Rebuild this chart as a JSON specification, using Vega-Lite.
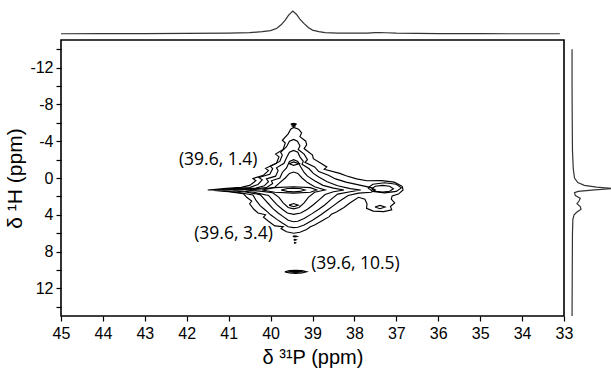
{
  "$schema": "https://vega.github.io/schema/vega-lite/v6.json",
  "padding": {"left": 4, "top": 8, "right": 0, "bottom": 5},
  "columns": 2,
  "bounds": "flush",
  "spacing": {"row": 6, "column": 6},
  "config": {
    "font": "Liberation Sans",
    "view": {"stroke": null},
    "axis": {"labelFont": "Liberation Sans", "titleFont": "Liberation Sans", "labelColor": "black", "titleColor": "black", "tickColor": "black", "labelFontSize": 16, "titleFontSize": 20, "titleFontWeight": "normal", "grid": false, "domain": false, "tickSize": 5, "tickWidth": 1.2, "labelOverlap": false, "labelBound": false, "labelFlush": false}
  },
  "datasets": {
    "contours": [
      {"c":"r1","p":41.50,"h":1.30},{"c":"r1","p":41.05,"h":1.12},{"c":"r1","p":40.70,"h":1.02},{"c":"r1","p":40.50,"h":0.80},{"c":"r1","p":40.35,"h":0.30},{"c":"r1","p":40.42,"h":0.05},{"c":"r1","p":40.17,"h":-0.30},{"c":"r1","p":40.05,"h":-0.80},{"c":"r1","p":40.12,"h":-1.05},{"c":"r1","p":39.86,"h":-1.60},{"c":"r1","p":39.80,"h":-2.30},{"c":"r1","p":39.88,"h":-2.60},{"c":"r1","p":39.70,"h":-3.10},{"c":"r1","p":39.65,"h":-3.80},{"c":"r1","p":39.72,"h":-4.10},{"c":"r1","p":39.58,"h":-4.80},{"c":"r1","p":39.52,"h":-5.30},{"c":"r1","p":39.45,"h":-5.50},{"c":"r1","p":39.33,"h":-5.30},{"c":"r1","p":39.26,"h":-4.90},{"c":"r1","p":39.30,"h":-4.50},{"c":"r1","p":39.16,"h":-4.00},{"c":"r1","p":39.14,"h":-3.60},{"c":"r1","p":39.20,"h":-3.20},{"c":"r1","p":39.00,"h":-2.50},{"c":"r1","p":38.98,"h":-2.10},{"c":"r1","p":38.80,"h":-1.60},{"c":"r1","p":38.66,"h":-1.20},{"c":"r1","p":38.72,"h":-0.95},{"c":"r1","p":38.35,"h":-0.50},{"c":"r1","p":38.20,"h":-0.25},{"c":"r1","p":37.95,"h":0.10},{"c":"r1","p":37.70,"h":0.30},{"c":"r1","p":37.35,"h":0.28},{"c":"r1","p":37.05,"h":0.45},{"c":"r1","p":36.86,"h":0.90},{"c":"r1","p":36.84,"h":1.30},{"c":"r1","p":36.95,"h":1.75},{"c":"r1","p":37.10,"h":1.95},{"c":"r1","p":37.12,"h":2.30},{"c":"r1","p":37.04,"h":2.70},{"c":"r1","p":37.14,"h":3.10},{"c":"r1","p":37.11,"h":3.45},{"c":"r1","p":37.30,"h":3.65},{"c":"r1","p":37.55,"h":3.60},{"c":"r1","p":37.71,"h":3.30},{"c":"r1","p":37.70,"h":2.80},{"c":"r1","p":37.75,"h":2.30},{"c":"r1","p":37.90,"h":2.10},{"c":"r1","p":38.10,"h":2.70},{"c":"r1","p":38.25,"h":3.20},{"c":"r1","p":38.43,"h":3.70},{"c":"r1","p":38.55,"h":3.95},{"c":"r1","p":38.60,"h":4.20},{"c":"r1","p":38.75,"h":4.60},{"c":"r1","p":38.95,"h":5.10},{"c":"r1","p":39.05,"h":5.30},{"c":"r1","p":39.14,"h":5.60},{"c":"r1","p":39.30,"h":5.90},{"c":"r1","p":39.45,"h":6.00},{"c":"r1","p":39.62,"h":5.85},{"c":"r1","p":39.75,"h":5.50},{"c":"r1","p":39.70,"h":5.30},{"c":"r1","p":39.90,"h":5.20},{"c":"r1","p":40.05,"h":4.70},{"c":"r1","p":40.17,"h":4.25},{"c":"r1","p":40.12,"h":4.00},{"c":"r1","p":40.30,"h":3.80},{"c":"r1","p":40.40,"h":3.40},{"c":"r1","p":40.50,"h":2.80},{"c":"r1","p":40.45,"h":2.50},{"c":"r1","p":40.57,"h":2.10},{"c":"r1","p":40.65,"h":1.70},{"c":"r1","p":41.00,"h":1.50},{"c":"r1","p":41.50,"h":1.30},
      {"c":"r2","p":41.35,"h":1.30},{"c":"r2","p":40.90,"h":1.15},{"c":"r2","p":40.50,"h":1.05},{"c":"r2","p":40.30,"h":0.70},{"c":"r2","p":40.20,"h":0.20},{"c":"r2","p":40.28,"h":-0.05},{"c":"r2","p":40.02,"h":-0.40},{"c":"r2","p":39.95,"h":-1.00},{"c":"r2","p":40.00,"h":-1.30},{"c":"r2","p":39.78,"h":-1.80},{"c":"r2","p":39.72,"h":-2.50},{"c":"r2","p":39.76,"h":-2.80},{"c":"r2","p":39.62,"h":-3.40},{"c":"r2","p":39.55,"h":-4.00},{"c":"r2","p":39.45,"h":-4.20},{"c":"r2","p":39.36,"h":-4.00},{"c":"r2","p":39.30,"h":-3.50},{"c":"r2","p":39.34,"h":-3.10},{"c":"r2","p":39.20,"h":-2.60},{"c":"r2","p":39.12,"h":-2.00},{"c":"r2","p":39.18,"h":-1.70},{"c":"r2","p":38.95,"h":-1.20},{"c":"r2","p":38.85,"h":-0.70},{"c":"r2","p":38.62,"h":-0.30},{"c":"r2","p":38.45,"h":0.10},{"c":"r2","p":38.20,"h":0.45},{"c":"r2","p":37.90,"h":0.75},{"c":"r2","p":37.60,"h":1.05},{"c":"r2","p":37.50,"h":1.30},{"c":"r2","p":37.60,"h":1.55},{"c":"r2","p":37.90,"h":1.65},{"c":"r2","p":38.15,"h":1.90},{"c":"r2","p":38.35,"h":2.50},{"c":"r2","p":38.50,"h":3.00},{"c":"r2","p":38.65,"h":3.50},{"c":"r2","p":38.80,"h":4.00},{"c":"r2","p":39.00,"h":4.60},{"c":"r2","p":39.20,"h":5.10},{"c":"r2","p":39.35,"h":5.35},{"c":"r2","p":39.45,"h":5.40},{"c":"r2","p":39.58,"h":5.30},{"c":"r2","p":39.72,"h":4.90},{"c":"r2","p":39.85,"h":4.50},{"c":"r2","p":40.00,"h":4.00},{"c":"r2","p":40.12,"h":3.50},{"c":"r2","p":40.25,"h":3.00},{"c":"r2","p":40.35,"h":2.40},{"c":"r2","p":40.42,"h":1.85},{"c":"r2","p":40.80,"h":1.55},{"c":"r2","p":41.35,"h":1.30},
      {"c":"r3","p":41.15,"h":1.30},{"c":"r3","p":40.70,"h":1.18},{"c":"r3","p":40.35,"h":1.10},{"c":"r3","p":40.15,"h":0.85},{"c":"r3","p":40.05,"h":0.40},{"c":"r3","p":40.10,"h":0.10},{"c":"r3","p":39.88,"h":-0.20},{"c":"r3","p":39.82,"h":-0.80},{"c":"r3","p":39.86,"h":-1.10},{"c":"r3","p":39.68,"h":-1.60},{"c":"r3","p":39.62,"h":-2.20},{"c":"r3","p":39.55,"h":-2.80},{"c":"r3","p":39.45,"h":-3.00},{"c":"r3","p":39.35,"h":-2.80},{"c":"r3","p":39.30,"h":-2.30},{"c":"r3","p":39.22,"h":-1.80},{"c":"r3","p":39.25,"h":-1.50},{"c":"r3","p":39.08,"h":-1.00},{"c":"r3","p":38.98,"h":-0.50},{"c":"r3","p":38.85,"h":-0.10},{"c":"r3","p":38.65,"h":0.40},{"c":"r3","p":38.40,"h":0.85},{"c":"r3","p":38.10,"h":1.15},{"c":"r3","p":37.85,"h":1.30},{"c":"r3","p":38.10,"h":1.50},{"c":"r3","p":38.40,"h":1.75},{"c":"r3","p":38.55,"h":2.30},{"c":"r3","p":38.70,"h":2.90},{"c":"r3","p":38.85,"h":3.40},{"c":"r3","p":39.02,"h":3.90},{"c":"r3","p":39.20,"h":4.40},{"c":"r3","p":39.35,"h":4.70},{"c":"r3","p":39.45,"h":4.75},{"c":"r3","p":39.58,"h":4.60},{"c":"r3","p":39.70,"h":4.20},{"c":"r3","p":39.82,"h":3.80},{"c":"r3","p":39.95,"h":3.30},{"c":"r3","p":40.05,"h":2.80},{"c":"r3","p":40.15,"h":2.30},{"c":"r3","p":40.25,"h":1.80},{"c":"r3","p":40.60,"h":1.52},{"c":"r3","p":41.15,"h":1.30},
      {"c":"r4","p":40.90,"h":1.30},{"c":"r4","p":40.45,"h":1.20},{"c":"r4","p":40.10,"h":1.05},{"c":"r4","p":39.95,"h":0.60},{"c":"r4","p":39.98,"h":0.30},{"c":"r4","p":39.78,"h":0.00},{"c":"r4","p":39.72,"h":-0.60},{"c":"r4","p":39.62,"h":-1.10},{"c":"r4","p":39.55,"h":-1.80},{"c":"r4","p":39.45,"h":-2.00},{"c":"r4","p":39.35,"h":-1.80},{"c":"r4","p":39.28,"h":-1.20},{"c":"r4","p":39.20,"h":-0.60},{"c":"r4","p":39.12,"h":-0.20},{"c":"r4","p":38.95,"h":0.30},{"c":"r4","p":38.75,"h":0.80},{"c":"r4","p":38.50,"h":1.10},{"c":"r4","p":38.25,"h":1.30},{"c":"r4","p":38.50,"h":1.50},{"c":"r4","p":38.70,"h":1.80},{"c":"r4","p":38.85,"h":2.40},{"c":"r4","p":38.98,"h":2.90},{"c":"r4","p":39.12,"h":3.40},{"c":"r4","p":39.28,"h":3.80},{"c":"r4","p":39.45,"h":3.95},{"c":"r4","p":39.60,"h":3.80},{"c":"r4","p":39.72,"h":3.40},{"c":"r4","p":39.85,"h":2.90},{"c":"r4","p":39.95,"h":2.40},{"c":"r4","p":40.05,"h":1.90},{"c":"r4","p":40.40,"h":1.55},{"c":"r4","p":40.90,"h":1.30},
      {"c":"r5","p":40.60,"h":1.30},{"c":"r5","p":40.20,"h":1.20},{"c":"r5","p":39.90,"h":1.00},{"c":"r5","p":39.78,"h":0.50},{"c":"r5","p":39.65,"h":0.00},{"c":"r5","p":39.55,"h":-0.50},{"c":"r5","p":39.45,"h":-0.65},{"c":"r5","p":39.35,"h":-0.50},{"c":"r5","p":39.25,"h":0.00},{"c":"r5","p":39.12,"h":0.50},{"c":"r5","p":38.95,"h":0.95},{"c":"r5","p":38.70,"h":1.30},{"c":"r5","p":38.95,"h":1.55},{"c":"r5","p":39.10,"h":2.10},{"c":"r5","p":39.20,"h":2.70},{"c":"r5","p":39.32,"h":3.20},{"c":"r5","p":39.45,"h":3.35},{"c":"r5","p":39.58,"h":3.20},{"c":"r5","p":39.70,"h":2.70},{"c":"r5","p":39.80,"h":2.10},{"c":"r5","p":39.95,"h":1.60},{"c":"r5","p":40.20,"h":1.45},{"c":"r5","p":40.60,"h":1.30},
      {"c":"r6","p":40.20,"h":1.30},{"c":"r6","p":39.90,"h":1.05},{"c":"r6","p":39.45,"h":0.95},{"c":"r6","p":39.05,"h":1.05},{"c":"r6","p":38.90,"h":1.30},{"c":"r6","p":39.05,"h":1.55},{"c":"r6","p":39.45,"h":1.65},{"c":"r6","p":39.90,"h":1.55},{"c":"r6","p":40.20,"h":1.30},
      {"c":"r7","p":39.75,"h":1.30},{"c":"r7","p":39.60,"h":1.14},{"c":"r7","p":39.45,"h":1.10},{"c":"r7","p":39.30,"h":1.14},{"c":"r7","p":39.18,"h":1.30},{"c":"r7","p":39.30,"h":1.46},{"c":"r7","p":39.45,"h":1.50},{"c":"r7","p":39.60,"h":1.46},{"c":"r7","p":39.75,"h":1.30},
      {"c":"lp","p":39.56,"h":2.95},{"c":"lp","p":39.45,"h":2.78},{"c":"lp","p":39.34,"h":2.95},{"c":"lp","p":39.45,"h":3.12},{"c":"lp","p":39.56,"h":2.95},
      {"c":"up","p":39.56,"h":-1.55},{"c":"up","p":39.45,"h":-1.75},{"c":"up","p":39.32,"h":-1.55},{"c":"up","p":39.45,"h":-1.38},{"c":"up","p":39.56,"h":-1.55},
      {"c":"e1","p":37.68,"h":1.07},{"c":"e1","p":37.56,"h":0.68},{"c":"e1","p":37.28,"h":0.52},{"c":"e1","p":37.00,"h":0.68},{"c":"e1","p":36.88,"h":1.07},{"c":"e1","p":37.00,"h":1.46},{"c":"e1","p":37.28,"h":1.62},{"c":"e1","p":37.56,"h":1.46},{"c":"e1","p":37.68,"h":1.07},
      {"c":"e2","p":37.59,"h":1.17},{"c":"e2","p":37.50,"h":0.90},{"c":"e2","p":37.33,"h":0.81},{"c":"e2","p":37.16,"h":0.90},{"c":"e2","p":37.07,"h":1.17},{"c":"e2","p":37.16,"h":1.44},{"c":"e2","p":37.33,"h":1.53},{"c":"e2","p":37.50,"h":1.44},{"c":"e2","p":37.59,"h":1.17},
      {"c":"lr","p":37.51,"h":3.16},{"c":"lr","p":37.39,"h":2.98},{"c":"lr","p":37.27,"h":3.16},{"c":"lr","p":37.39,"h":3.34},{"c":"lr","p":37.51,"h":3.16},
      {"c":"sp","p":39.66,"h":10.2},{"c":"sp","p":39.55,"h":10.07},{"c":"sp","p":39.40,"h":10.04},{"c":"sp","p":39.25,"h":10.07},{"c":"sp","p":39.14,"h":10.2},{"c":"sp","p":39.25,"h":10.33},{"c":"sp","p":39.40,"h":10.36},{"c":"sp","p":39.55,"h":10.33},{"c":"sp","p":39.66,"h":10.2},
      {"c":"sp2","p":39.58,"h":10.2},{"c":"sp2","p":39.40,"h":10.15},{"c":"sp2","p":39.22,"h":10.2},{"c":"sp2","p":39.40,"h":10.25},{"c":"sp2","p":39.58,"h":10.2},
      {"c":"d1","p":39.52,"h":-5.85},{"c":"d1","p":39.45,"h":-5.93},{"c":"d1","p":39.38,"h":-5.85},{"c":"d1","p":39.45,"h":-5.77},{"c":"d1","p":39.52,"h":-5.85},
      {"c":"d2","p":39.50,"h":-5.66},{"c":"d2","p":39.45,"h":-5.71},{"c":"d2","p":39.40,"h":-5.66},{"c":"d2","p":39.45,"h":-5.61},{"c":"d2","p":39.50,"h":-5.66},
      {"c":"b1","p":39.47,"h":6.35},{"c":"b1","p":39.42,"h":6.29},{"c":"b1","p":39.37,"h":6.35},{"c":"b1","p":39.42,"h":6.41},{"c":"b1","p":39.47,"h":6.35},
      {"c":"b2","p":39.45,"h":6.72},{"c":"b2","p":39.42,"h":6.67},{"c":"b2","p":39.39,"h":6.72},{"c":"b2","p":39.42,"h":6.77},{"c":"b2","p":39.45,"h":6.72},
      {"c":"b3","p":39.44,"h":7.05},{"c":"b3","p":39.42,"h":7.00},{"c":"b3","p":39.40,"h":7.05},{"c":"b3","p":39.42,"h":7.10},{"c":"b3","p":39.44,"h":7.05}
    ],
    "labels": [
      {"p":41.25,"h":-1.93,"t":"(39.6, 1.4)"},
      {"p":40.885,"h":6.14,"t":"(39.6, 3.4)"},
      {"p":37.975,"h":9.30,"t":"(39.6, 10.5)"}
    ],
    "top": [
      {"p":45.0,"i":1},{"p":44.0,"i":1.5},{"p":43.0,"i":2},{"p":42.0,"i":3},{"p":41.0,"i":4},{"p":40.5,"i":6},{"p":40.2,"i":10},{"p":40.0,"i":15},{"p":39.85,"i":25},{"p":39.75,"i":40},{"p":39.65,"i":60},{"p":39.57,"i":82},{"p":39.47,"i":100},{"p":39.38,"i":85},{"p":39.3,"i":65},{"p":39.2,"i":45},{"p":39.1,"i":28},{"p":39.0,"i":17},{"p":38.85,"i":10},{"p":38.7,"i":6},{"p":38.4,"i":4},{"p":38.0,"i":3.5},{"p":37.7,"i":4},{"p":37.5,"i":6},{"p":37.4,"i":6.5},{"p":37.25,"i":5.5},{"p":37.0,"i":3.5},{"p":36.5,"i":2.5},{"p":36.0,"i":2},{"p":35.0,"i":1.5},{"p":34.0,"i":1},{"p":33.1,"i":1}
    ],
    "side": [
      {"h":-14,"i":0},{"h":-10,"i":0},{"h":-6,"i":0.5},{"h":-3,"i":1},{"h":-1,"i":3},{"h":0,"i":6},{"h":0.5,"i":14},{"h":0.8,"i":30},{"h":1.0,"i":60},{"h":1.15,"i":100},{"h":1.3,"i":55},{"h":1.45,"i":15},{"h":1.6,"i":6},{"h":1.9,"i":8},{"h":2.2,"i":20},{"h":2.5,"i":17},{"h":2.8,"i":12},{"h":3.1,"i":20},{"h":3.4,"i":22},{"h":3.7,"i":12},{"h":4.0,"i":5},{"h":4.5,"i":2},{"h":6,"i":1},{"h":10,"i":0.5},{"h":15,"i":0}
    ]
  },
  "concat": [
    {
      "width": 503, "height": 23,
      "data": {"name": "top"},
      "mark": {"type": "line", "color": "#333333", "strokeWidth": 1.2, "clip": false},
      "encoding": {
        "x": {"field": "p", "type": "quantitative", "scale": {"domain": [33, 45], "reverse": true, "nice": false, "zero": false}, "axis": null},
        "y": {"field": "i", "type": "quantitative", "scale": {"domain": [0, 100], "nice": false}, "axis": null},
        "order": {"value": null}
      }
    },
    {
      "width": 41, "height": 23,
      "data": {"values": []},
      "mark": {"type": "point", "opacity": 0},
      "encoding": {}
    },
    {
      "width": 503, "height": 276,
      "view": {"stroke": "black", "strokeWidth": 1.6},
      "layer": [
        {
          "data": {"name": "contours"},
          "mark": {"type": "line", "color": "black", "strokeWidth": 1.15, "clip": true},
          "encoding": {
            "x": {"field": "p", "type": "quantitative", "scale": {"domain": [33, 45], "reverse": true, "nice": false, "zero": false},
                  "axis": {"title": "δ ³¹P (ppm)", "values": [33,34,35,36,37,38,39,40,41,42,43,44,45], "tickCount": 30, "format": "d", "labelPadding": 4, "titlePadding": 6}},
            "y": {"field": "h", "type": "quantitative", "scale": {"domain": [-15, 15], "reverse": true, "nice": false, "zero": false},
                  "axis": {"title": "δ ¹H (ppm)", "titleFontSize": 21, "values": [-14,-12,-10,-8,-6,-4,-2,0,2,4,6,8,10,12,14], "tickCount": 30, "labelExpr": "datum.value % 4 == 0 ? '' + datum.value : ''", "labelPadding": 3, "titlePadding": 4}},
            "detail": {"field": "c"},
            "order": {"value": null}
          }
        },
        {
          "data": {"name": "labels"},
          "mark": {"type": "text", "font": "Open Sans", "fontSize": 17.5, "color": "black", "align": "center", "baseline": "middle"},
          "encoding": {
            "x": {"field": "p", "type": "quantitative"},
            "y": {"field": "h", "type": "quantitative"},
            "text": {"field": "t"}
          }
        }
      ]
    },
    {
      "width": 41, "height": 276,
      "data": {"name": "side"},
      "mark": {"type": "line", "color": "#333333", "strokeWidth": 1.2, "clip": false},
      "encoding": {
        "x": {"field": "i", "type": "quantitative", "scale": {"domain": [-5, 95], "nice": false, "zero": false}, "axis": null},
        "y": {"field": "h", "type": "quantitative", "scale": {"domain": [-15, 15], "reverse": true, "nice": false, "zero": false}, "axis": null},
        "order": {"value": null}
      }
    }
  ]
}
